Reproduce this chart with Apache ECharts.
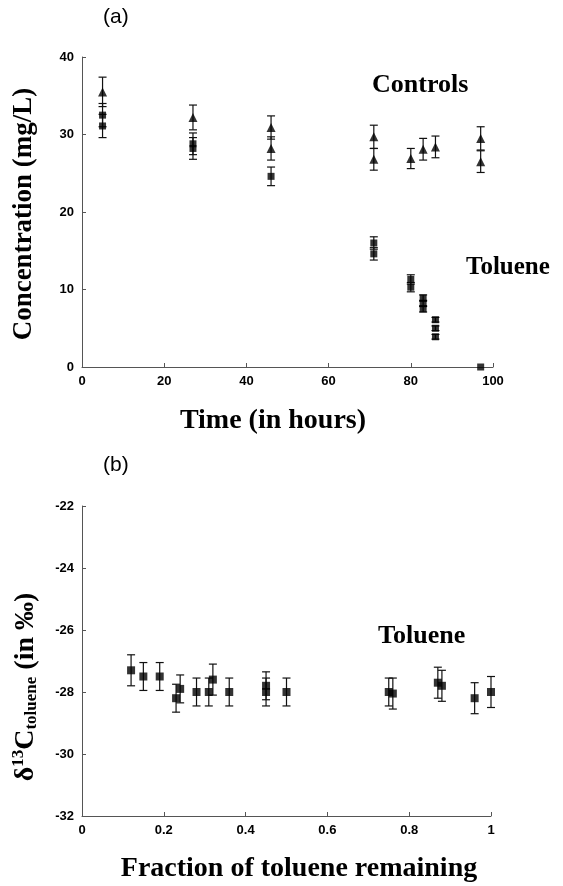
<!DOCTYPE html>
<html>
<head>
<meta charset="utf-8">
<script src="https://cdn.jsdelivr.net/npm/echarts@6/dist/echarts.min.js"></script>
<style>
  html, body { margin: 0; padding: 0; background: #fff; }
  #chart { width: 563px; height: 886px; }
</style>
</head>
<body>
<div id="chart"></div>
<script>
// panel (a): concentration vs time
var ctrlTime = [5, 27, 46, 46, 71, 71, 80, 83, 86, 97, 97];
var ctrlConc = [35.5, 32.2, 30.9, 28.2, 29.7, 26.8, 26.9, 28.1, 28.4, 29.5, 26.5];
var ctrlErr  = [1.9, 1.6, 1.5, 1.5, 1.5, 1.4, 1.3, 1.4, 1.4, 1.5, 1.4];

var tolTime = [5, 5, 27, 27, 46, 71, 71, 80, 80, 83, 83, 83, 86, 86, 86, 97];
var tolConc = [32.5, 31.1, 28.8, 28.2, 24.6, 16.0, 14.6, 11.3, 10.3, 8.9, 8.2, 7.5, 6.1, 5.0, 3.9, 0];
var tolErr  = [1.5, 1.5, 1.4, 1.4, 1.2, 0.8, 0.8, 0.6, 0.6, 0.4, 0.4, 0.4, 0.3, 0.3, 0.3, 0];

// panel (b): delta13C vs fraction remaining
var fracRem  = [0.12, 0.15, 0.19, 0.23, 0.24, 0.28, 0.31, 0.32, 0.36, 0.45, 0.45, 0.50, 0.75, 0.76, 0.87, 0.88, 0.96, 1.0];
var delta13C = [-27.3, -27.5, -27.5, -28.2, -27.9, -28.0, -28.0, -27.6, -28.0, -27.8, -28.0, -28.0, -28.0, -28.05, -27.7, -27.8, -28.2, -28.0];
var deltaErr = [0.5, 0.45, 0.45, 0.45, 0.45, 0.45, 0.45, 0.5, 0.45, 0.45, 0.45, 0.45, 0.45, 0.5, 0.5, 0.5, 0.5, 0.5];

var serif = '"Liberation Serif", "DejaVu Serif", serif';
var sans = '"Liberation Sans", Arial, sans-serif';

function zip3(a, b, c) {
  return a.map(function (v, i) { return [v, b[i], c[i]]; });
}

// vertical error bar with caps
function errorBar(params, api) {
  var x = api.value(0), y = api.value(1), e = api.value(2);
  if (!e) return null;
  var hi = api.coord([x, y + e]);
  var lo = api.coord([x, y - e]);
  var hw = 4;
  var st = { stroke: '#111', lineWidth: 1.2 };
  return {
    type: 'group',
    children: [
      { type: 'line', shape: { x1: hi[0], y1: hi[1], x2: lo[0], y2: lo[1] }, style: st },
      { type: 'line', shape: { x1: hi[0] - hw, y1: hi[1], x2: hi[0] + hw, y2: hi[1] }, style: st },
      { type: 'line', shape: { x1: lo[0] - hw, y1: lo[1], x2: lo[0] + hw, y2: lo[1] }, style: st }
    ]
  };
}

function axisBase() {
  return {
    axisLine: { show: true, lineStyle: { color: '#555', width: 1 } },
    axisTick: { show: true, inside: true, length: 4, lineStyle: { color: '#555' } },
    splitLine: { show: false },
    axisLabel: { color: '#000', fontFamily: sans, fontWeight: 'bold', fontSize: 13 }
  };
}

var chart = echarts.init(document.getElementById('chart'), null, { renderer: 'canvas' });

var option = {
  backgroundColor: '#ffffff',
  animation: false,
  grid: [
    { left: 82, right: 70, top: 57, height: 310 },
    { left: 82, right: 72, top: 506, height: 310 }
  ],
  xAxis: [
    Object.assign(axisBase(), { gridIndex: 0, type: 'value', min: 0, max: 100, interval: 20 }),
    Object.assign(axisBase(), { gridIndex: 1, type: 'value', min: 0, max: 1, interval: 0.2 })
  ],
  yAxis: [
    Object.assign(axisBase(), { gridIndex: 0, type: 'value', min: 0, max: 40, interval: 10 }),
    Object.assign(axisBase(), { gridIndex: 1, type: 'value', min: -32, max: -22, interval: 2 })
  ],
  series: [
    {
      type: 'custom', xAxisIndex: 0, yAxisIndex: 0, z: 2,
      renderItem: errorBar, data: zip3(ctrlTime, ctrlConc, ctrlErr)
    },
    {
      type: 'custom', xAxisIndex: 0, yAxisIndex: 0, z: 2,
      renderItem: errorBar, data: zip3(tolTime, tolConc, tolErr)
    },
    {
      name: 'Controls', type: 'scatter', xAxisIndex: 0, yAxisIndex: 0, z: 3,
      symbol: 'triangle', symbolSize: 9, itemStyle: { color: '#000' },
      data: ctrlTime.map(function (t, i) { return [t, ctrlConc[i]]; })
    },
    {
      name: 'Toluene', type: 'scatter', xAxisIndex: 0, yAxisIndex: 0, z: 3,
      symbol: 'rect', symbolSize: 7, itemStyle: { color: '#000' },
      data: tolTime.map(function (t, i) { return [t, tolConc[i]]; })
    },
    {
      type: 'custom', xAxisIndex: 1, yAxisIndex: 1, z: 2,
      renderItem: errorBar, data: zip3(fracRem, delta13C, deltaErr)
    },
    {
      name: 'Toluene δ13C', type: 'scatter', xAxisIndex: 1, yAxisIndex: 1, z: 3,
      symbol: 'rect', symbolSize: 8, itemStyle: { color: '#000' },
      data: fracRem.map(function (f, i) { return [f, delta13C[i]]; })
    }
  ],
  graphic: [
    { type: 'text', left: 103, top: 7, style: { text: '(a)', font: '21px ' + sans, fill: '#000' } },
    { type: 'text', left: 103, top: 455, style: { text: '(b)', font: '21px ' + sans, fill: '#000' } },
    { type: 'text', left: 372, top: 72, style: { text: 'Controls', font: 'bold 26px ' + serif, fill: '#000' } },
    { type: 'text', left: 466, top: 255, style: { text: 'Toluene', font: 'bold 25px ' + serif, fill: '#000' } },
    { type: 'text', left: 378, top: 623, style: { text: 'Toluene', font: 'bold 26px ' + serif, fill: '#000' } },
    {
      type: 'text', x: 24, y: 214, rotation: Math.PI / 2,
      style: { text: 'Concentration (mg/L)', font: 'bold 27px ' + serif, fill: '#000', align: 'center', verticalAlign: 'middle' }
    },
    {
      type: 'text', x: 24, y: 687, rotation: Math.PI / 2,
      style: {
        text: '{a|δ}{sup|13}{a|C}{sub|toluene}{a| (in ‰)}',
        align: 'center', verticalAlign: 'middle',
        rich: {
          a: { font: 'bold 28px ' + serif, fill: '#000', verticalAlign: 'bottom', lineHeight: 32 },
          sup: { font: 'bold 17px ' + serif, fill: '#000', padding: [0, 0, 13, 0], lineHeight: 32, verticalAlign: 'bottom' },
          sub: { font: 'bold 17px ' + serif, fill: '#000', lineHeight: 24, verticalAlign: 'bottom' }
        }
      }
    },
    {
      type: 'text', x: 273, y: 421,
      style: { text: 'Time (in hours)', font: 'bold 28px ' + serif, fill: '#000', align: 'center', verticalAlign: 'middle' }
    },
    {
      type: 'text', x: 299, y: 869,
      style: { text: 'Fraction of toluene remaining', font: 'bold 28px ' + serif, fill: '#000', align: 'center', verticalAlign: 'middle' }
    }
  ]
};

chart.setOption(option);
</script>
</body>
</html>
